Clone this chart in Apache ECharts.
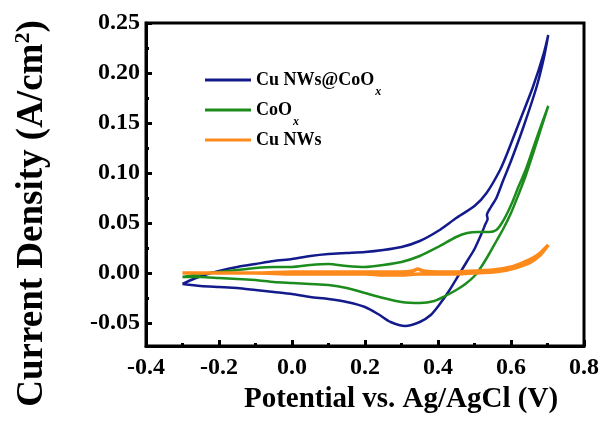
<!DOCTYPE html>
<html>
<head>
<meta charset="utf-8">
<script src="https://cdn.jsdelivr.net/npm/echarts@6/dist/echarts.min.js"></script>
<style>
  html, body { margin: 0; padding: 0; background: #fff; }
  #chart { width: 606px; height: 441px; }
</style>
</head>
<body>
<div id="chart"></div>
<script>
// CV loops, scanned -0.3 V -> 0.7 V -> -0.3 V
const cuCoPotential = [
  -0.30, -0.27, -0.24, -0.20, -0.15, -0.10, -0.05, 0.00, 0.05, 0.10, 0.15, 0.20, 0.25, 0.30,
  0.35, 0.40, 0.45, 0.50, 0.533, 0.57, 0.59, 0.625, 0.66, 0.69, 0.702,
  0.69, 0.67, 0.634, 0.60, 0.579, 0.56, 0.545, 0.534, 0.536, 0.53, 0.52, 0.50, 0.48, 0.46,
  0.43, 0.405, 0.38, 0.35, 0.31, 0.27, 0.24, 0.20, 0.15, 0.10, 0.05, 0.00, -0.05, -0.10,
  -0.15, -0.20, -0.25, -0.30
]
const cuCoCurrent = [
  -0.011, -0.006, -0.002, 0.002, 0.006, 0.009, 0.012, 0.014, 0.017, 0.019, 0.020, 0.021, 0.023, 0.026,
  0.032, 0.042, 0.055, 0.067, 0.080, 0.103, 0.120, 0.153, 0.186, 0.220, 0.238,
  0.215, 0.186, 0.146, 0.112, 0.093, 0.075, 0.066, 0.058, 0.054, 0.049, 0.040, 0.024, 0.012, 0.000,
  -0.018, -0.031, -0.042, -0.049, -0.053, -0.049, -0.042, -0.034, -0.029, -0.026, -0.024, -0.021, -0.019, -0.017,
  -0.015, -0.014, -0.013, -0.011
]

const coPotential = [
  -0.30, -0.25, -0.20, -0.15, -0.10, -0.05, 0.00, 0.05, 0.10, 0.15, 0.20, 0.25, 0.30, 0.35,
  0.40, 0.45, 0.48, 0.51, 0.54, 0.56, 0.575, 0.59, 0.605, 0.62, 0.64, 0.66, 0.68, 0.702,
  0.68, 0.66, 0.64, 0.62, 0.60, 0.58, 0.56, 0.54, 0.52, 0.50, 0.475, 0.45, 0.42, 0.39, 0.35,
  0.30, 0.25, 0.20, 0.15, 0.10, 0.05, 0.00, -0.05, -0.10, -0.15, -0.20, -0.25, -0.30
]
const coCurrent = [
  -0.004, -0.001, 0.001, 0.003, 0.005, 0.006, 0.006, 0.008, 0.009, 0.007, 0.006, 0.008, 0.011, 0.017,
  0.026, 0.036, 0.040, 0.041, 0.041, 0.043, 0.050, 0.060, 0.072, 0.086, 0.103, 0.124, 0.145, 0.167,
  0.142, 0.119, 0.097, 0.078, 0.060, 0.045, 0.032, 0.019, 0.007, -0.003, -0.011, -0.017, -0.023, -0.028, -0.030,
  -0.029, -0.025, -0.020, -0.015, -0.012, -0.011, -0.010, -0.009, -0.007, -0.006, -0.005, -0.004, -0.004
]

const cuPotential = [
  -0.30, -0.20, -0.10, 0.00, 0.10, 0.20, 0.30, 0.33, 0.345, 0.36, 0.40, 0.45, 0.50, 0.55,
  0.60, 0.63, 0.66, 0.68, 0.702,
  0.68, 0.65, 0.60, 0.55, 0.50, 0.45, 0.40, 0.35, 0.30, 0.25, 0.20, 0.10, 0.00, -0.10, -0.20, -0.30
]
const cuCurrent = [
  0.000, 0.000, 0.000, 0.001, 0.001, 0.001, 0.001, 0.002, 0.004, 0.002, 0.001, 0.001, 0.002, 0.003,
  0.006, 0.010, 0.015, 0.020, 0.028,
  0.018, 0.010, 0.004, 0.001, 0.000, -0.001, -0.001, -0.001, -0.002, -0.002, -0.001, -0.001, -0.001, 0.000, 0.000, 0.000
]

const seriesNames = ['Cu NWs@CoOx', 'CoOx', 'Cu NWs']
const seriesColors = ['#131b8c', '#1c8c1c', '#ff8a1c']

const xTicks = [-0.4, -0.2, 0.0, 0.2, 0.4, 0.6, 0.8]
const yTicks = [-0.05, 0.00, 0.05, 0.10, 0.15, 0.20, 0.25]
const yMinorTicks = [-0.025, 0.025, 0.075, 0.125, 0.175, 0.225]

const font = 'Liberation Serif, Times New Roman, serif'

function pairs(xs, ys) {
  return xs.map((x, i) => [x, ys[i]])
}

const chart = echarts.init(document.getElementById('chart'), null, { renderer: 'canvas' })

chart.setOption({
  backgroundColor: '#fff',
  animation: false,
  grid: {
    left: 146, right: 22, top: 23, bottom: 95,
    show: true, borderColor: '#000', borderWidth: 3, backgroundColor: 'transparent'
  },
  legend: {
    orient: 'vertical',
    left: 205,
    top: 62,
    padding: 0,
    icon: 'rect',
    itemWidth: 46,
    itemHeight: 3,
    itemGap: -6,
    data: seriesNames,
    textStyle: {
      fontFamily: font, fontWeight: 'bold', fontSize: 18, color: '#000', lineHeight: 36,
      rich: {
        sub: {
          fontFamily: font, fontStyle: 'italic', fontWeight: 'bold', fontSize: 12, color: '#000',
          lineHeight: 36, verticalAlign: 'bottom', padding: [0, 0, 0, 1]
        }
      }
    },
    formatter: (name) => name.endsWith('Ox') ? name.slice(0, -1) + '{sub|x}' : name
  },
  xAxis: {
    type: 'value',
    min: xTicks[0],
    max: xTicks[xTicks.length - 1],
    interval: 0.2,
    name: 'Potential vs. Ag/AgCl (V)',
    nameLocation: 'middle',
    nameGap: 32,
    nameTextStyle: { fontFamily: font, fontWeight: 'bold', fontSize: 29, color: '#000', padding: [0, 0, 0, 72] },
    axisLine: { onZero: false, lineStyle: { color: '#000', width: 3 } },
    axisTick: { inside: true, length: 6, lineStyle: { color: '#000', width: 3 } },
    minorTick: { show: true, splitNumber: 2, length: 3, lineStyle: { color: '#000', width: 3 } },
    splitLine: { show: false },
    axisLabel: {
      margin: 10, fontFamily: font, fontWeight: 'bold', fontSize: 24, color: '#000',
      formatter: (v) => v.toFixed(1)
    }
  },
  yAxis: [
    {
      type: 'value',
      min: -0.073,
      max: 0.25,
      name: 'Current Density (A/cm{sup|2})',
      nameLocation: 'middle',
      nameGap: 94,
      nameRotate: 90,
      nameTextStyle: {
        fontFamily: font, fontWeight: 'bold', fontSize: 37, color: '#000', padding: [0, 58, 0, 0],
        rich: {
          sup: { fontFamily: font, fontWeight: 'bold', fontSize: 22, color: '#000', padding: [0, 0, 18, 0] }
        }
      },
      axisLine: { onZero: false, lineStyle: { color: '#000', width: 3 } },
      axisTick: { inside: true, length: 6, customValues: yTicks, lineStyle: { color: '#000', width: 3 } },
      splitLine: { show: false },
      axisLabel: {
        margin: 6, fontFamily: font, fontWeight: 'bold', fontSize: 24, color: '#000',
        customValues: yTicks,
        formatter: (v) => v.toFixed(2)
      }
    },
    {
      type: 'value',
      position: 'left',
      min: -0.073,
      max: 0.25,
      axisLine: { show: false, onZero: false },
      axisTick: { inside: true, length: 3, customValues: yMinorTicks, lineStyle: { color: '#000', width: 3 } },
      axisLabel: { show: false },
      splitLine: { show: false }
    }
  ],
  series: [
    { name: seriesNames[0], data: pairs(cuCoPotential, cuCoCurrent), lineWidth: 2.5 },
    { name: seriesNames[1], data: pairs(coPotential, coCurrent), lineWidth: 2.5 },
    { name: seriesNames[2], data: pairs(cuPotential, cuCurrent), lineWidth: 3.5 }
  ].map((s, i) => ({
    type: 'line',
    name: s.name,
    data: s.data,
    yAxisIndex: 0,
    smooth: 0.25,
    symbol: 'none',
    showSymbol: false,
    color: seriesColors[i],
    lineStyle: { color: seriesColors[i], width: s.lineWidth }
  }))
})
</script>
</body>
</html>
